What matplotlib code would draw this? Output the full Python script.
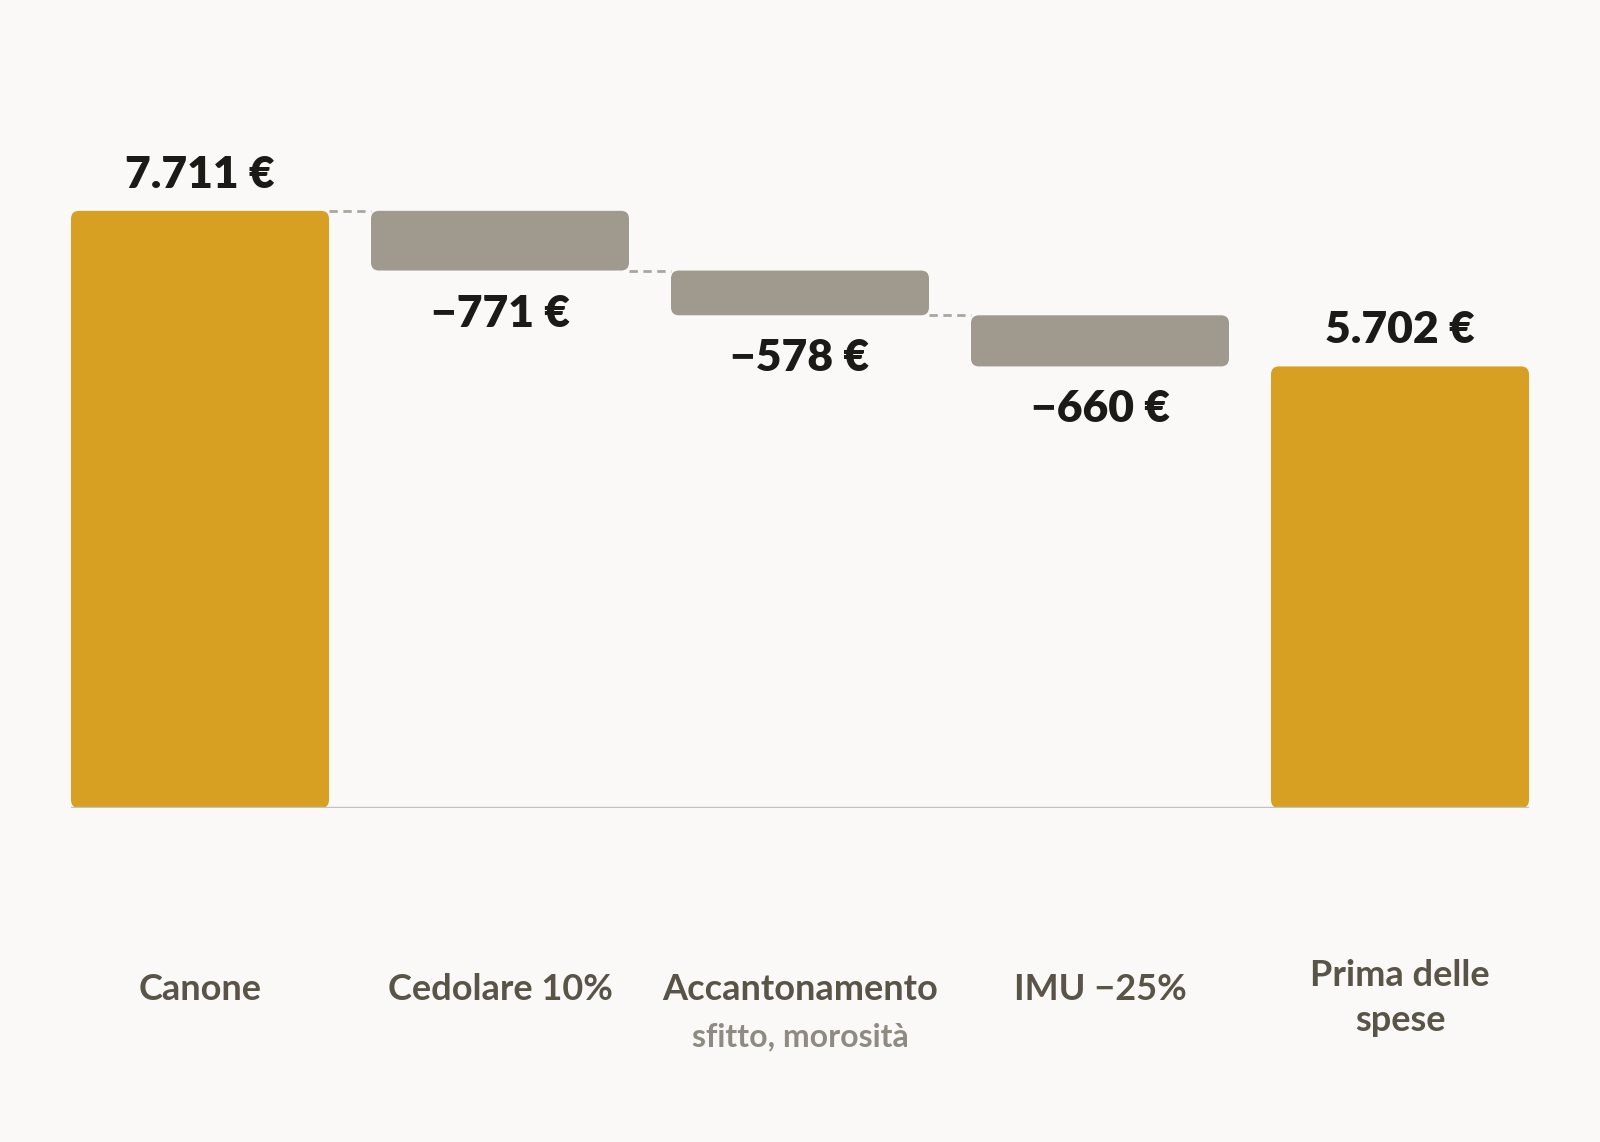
import numpy as np
import matplotlib.pyplot as plt
from matplotlib.patches import FancyBboxPatch

# data
categories = ['Canone', 'Cedolare 10%', 'Accantonamento', 'IMU −25%', 'Prima delle\nspese']
sublabels = ['', '', 'sfitto, morosità', '', '']
values = [7711, -771, -578, -660, 5702]
kinds = ['total', 'delta', 'delta', 'delta', 'total']
value_labels = ['7.711 €', '−771 €', '−578 €', '−660 €', '5.702 €']

BG = '#faf9f7'
GOLD = '#d8a023'
GREY = '#a09a8e'
DARK = '#1c1a17'
LABEL = '#5a5448'
SUB = '#8f8b83'

plt.rcParams['font.family'] = ['Lato', 'DejaVu Sans']

fig = plt.figure(figsize=(16, 11.42), dpi=100, facecolor=BG)
ax = fig.add_axes([71 / 1600, 334 / 1142, 1458 / 1600, 697 / 1142])
ax.set_facecolor(BG)

width = 0.86
ymax = 9000
ax.set_xlim(-width / 2, len(values) - 1 + width / 2)
ax.set_ylim(0, ymax)

# pixels per data unit, for rounded corners
px_x = 1458 / (len(values) - 1 + width)
px_y = 697 / ymax
aspect = px_x / px_y
radius = 8 / px_x

running = 0
tops = []
for i, (v, k) in enumerate(zip(values, kinds)):
    if k == 'total':
        bottom, top = 0, v
        running = v
        color = GOLD
    else:
        top = running
        bottom = running + v
        running = bottom
        color = GREY
    tops.append((bottom, top))
    patch = FancyBboxPatch((i - width / 2, bottom), width, top - bottom,
                           boxstyle=f'round,pad=0,rounding_size={radius}',
                           mutation_aspect=aspect, facecolor=color,
                           edgecolor='none', zorder=3)
    ax.add_patch(patch)

    if k == 'total':
        ax.annotate(value_labels[i], (i, top), xytext=(0, 26), textcoords='offset points',
                    ha='center', va='center', fontsize=32, fontweight='heavy', color=DARK)
    else:
        ax.annotate(value_labels[i], (i, bottom), xytext=(0, -31), textcoords='offset points',
                    ha='center', va='center', fontsize=32, fontweight='heavy', color=DARK)

# dashed connectors between the running levels
for i in range(len(values) - 2):
    level = tops[i][1] if kinds[i] == 'total' else tops[i][0]
    ax.plot([i + width / 2, i + 1 - width / 2], [level, level], color='#aaa69f',
            lw=2, ls=(0, (3, 2)), zorder=2)

# baseline
ax.axhline(0, color='#c4c2be', lw=2.4, zorder=4)

# category labels
for i, (c, s) in enumerate(zip(categories, sublabels)):
    dy = -137 if '\n' in c else -131
    ax.annotate(c, (i, 0), xytext=(0, dy), textcoords='offset points',
                ha='center', va='center', fontsize=26, fontweight='bold',
                color=LABEL, linespacing=1.45, annotation_clip=False)
    if s:
        ax.annotate(s, (i, 0), xytext=(0, -165), textcoords='offset points',
                    ha='center', va='center', fontsize=23, fontweight='bold',
                    color=SUB, annotation_clip=False)

for sp in ax.spines.values():
    sp.set_visible(False)
ax.set_xticks([])
ax.set_yticks([])

fig.savefig('out.png', dpi=100, facecolor=BG)
